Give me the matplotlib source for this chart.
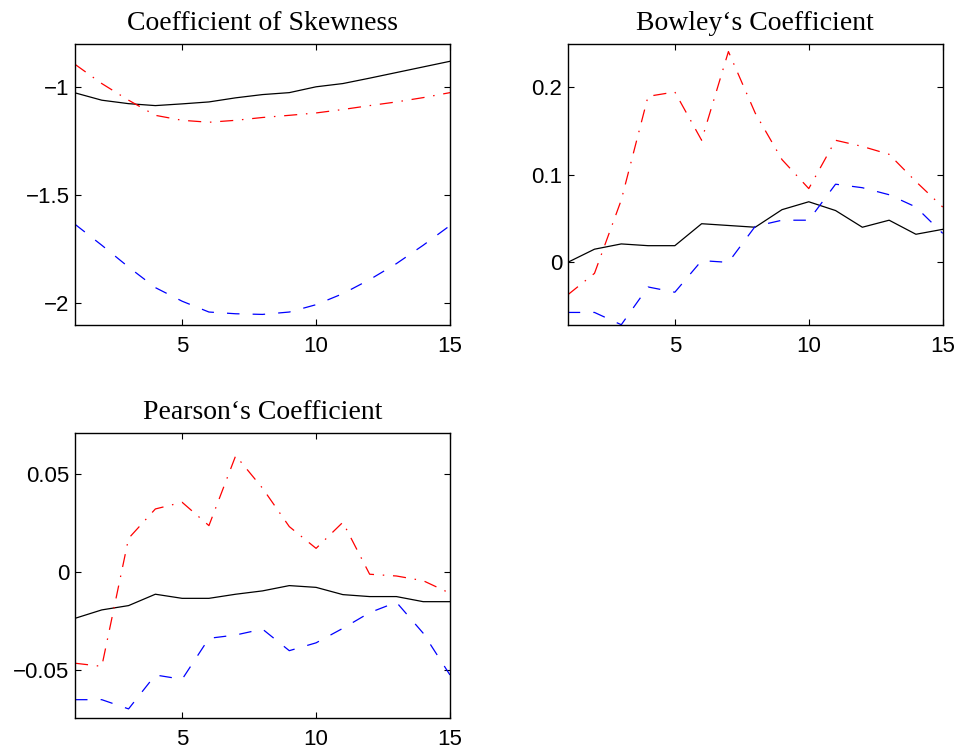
import matplotlib.pyplot as plt
from matplotlib.ticker import FixedLocator, FixedFormatter

x = list(range(1, 16))

# Coefficient of Skewness
skew_black = [-1.026, -1.060, -1.076, -1.085, -1.077, -1.068, -1.049, -1.034,
              -1.025, -0.998, -0.983, -0.958, -0.932, -0.906, -0.880]
skew_red = [-0.894, -0.983, -1.060, -1.130, -1.153, -1.162, -1.153, -1.140,
            -1.130, -1.119, -1.103, -1.085, -1.068, -1.048, -1.025]
skew_blue = [-1.634, -1.731, -1.832, -1.927, -1.990, -2.040, -2.048, -2.051,
             -2.040, -2.006, -1.955, -1.890, -1.816, -1.731, -1.640]

# Bowley's Coefficient
bow_black = [0.000, 0.015, 0.021, 0.019, 0.019, 0.044, 0.042, 0.040,
             0.060, 0.069, 0.059, 0.040, 0.048, 0.032, 0.0376]
bow_red = [-0.037, -0.0125, 0.071, 0.189, 0.194, 0.139, 0.240, 0.170,
           0.117, 0.084, 0.139, 0.132, 0.123, 0.092, 0.063]
bow_blue = [-0.057, -0.057, -0.071, -0.028, -0.034, 0.002, 0.000, 0.041,
            0.048, 0.048, 0.089, 0.085, 0.077, 0.063, 0.033]

# Pearson's Coefficient
pear_black = [-0.0235, -0.0192, -0.0170, -0.0112, -0.0133, -0.0133, -0.0112, -0.0095,
              -0.0068, -0.0077, -0.0114, -0.0124, -0.0124, -0.0150, -0.0150]
pear_red = [-0.0464, -0.0480, 0.0173, 0.0323, 0.0357, 0.0238, 0.0595, 0.0429,
            0.0233, 0.0122, 0.0255, -0.0010, -0.0019, -0.0043, -0.0107]
pear_blue = [-0.0650, -0.0650, -0.0697, -0.0524, -0.0546, -0.0337, -0.0320, -0.0290,
             -0.0400, -0.0360, -0.0286, -0.0206, -0.0153, -0.0311, -0.0524]

panels = [
    ("Coefficient of Skewness", skew_black, skew_red, skew_blue,
     (-2.10, -0.80), [-2, -1.5, -1], ["\u22122", "\u22121.5", "\u22121"]),
    ("Bowley\u2018s Coefficient", bow_black, bow_red, bow_blue,
     (-0.0713, 0.2486), [0, 0.1, 0.2], ["0", "0.1", "0.2"]),
    ("Pearson\u2018s Coefficient", pear_black, pear_red, pear_blue,
     (-0.0745, 0.0709), [-0.05, 0, 0.05], ["\u22120.05", "0", "0.05"]),
]

rects = [
    [75 / 959, 1 - 325 / 751, 375 / 959, 281 / 751],
    [567.7 / 959, 1 - 325 / 751, 375 / 959, 281 / 751],
    [75 / 959, 1 - 718.3 / 751, 375 / 959, 285 / 751],
]

fig = plt.figure(figsize=(9.59, 7.51), dpi=100)

for rect, (title, blk, red, blu, ylim, yt, ytl) in zip(rects, panels):
    ax = fig.add_axes(rect)
    ax.plot(x, blk, color="k", lw=0.9)
    ax.plot(x, red, color="#ff0000", lw=0.9, dashes=(10.5, 7, 1.2, 7))
    ax.plot(x, blu, color="#0000ff", lw=0.9, dashes=(10, 10.5))
    ax.set_xlim(1, 15)
    ax.set_ylim(*ylim)
    ax.xaxis.set_major_locator(FixedLocator([5, 10, 15]))
    ax.xaxis.set_major_formatter(FixedFormatter(["5", "10", "15"]))
    ax.yaxis.set_major_locator(FixedLocator(yt))
    ax.yaxis.set_major_formatter(FixedFormatter(ytl))
    ax.tick_params(direction="in", top=True, right=True, length=4, width=0.8,
                   labelsize=16)
    ax.tick_params(axis="x", pad=8)
    ax.tick_params(axis="y", pad=4)
    for lab in ax.get_xticklabels() + ax.get_yticklabels():
        lab.set_fontfamily("Liberation Sans")
    for s in ax.spines.values():
        s.set_linewidth(1.0)
    ax.set_title(title, fontsize=20, fontfamily="Liberation Serif", pad=10)

fig.savefig("out.png", dpi=100)
